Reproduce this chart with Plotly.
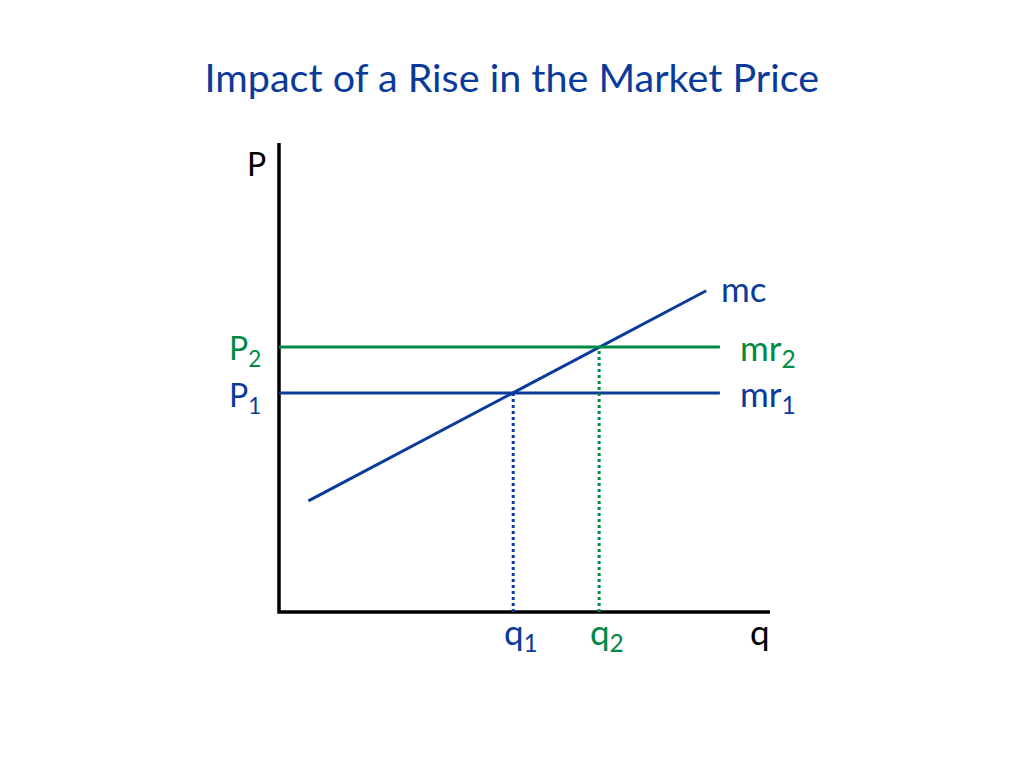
import plotly.graph_objects as go

# units: q on x, P on y (axes drawn 0..10)
AXIS_Q = [0, 0, 10]
AXIS_P = [10, 0, 0]
MC_Q = [0.6, 8.7]
MC_P = [2.37, 6.85]
P1 = 4.67
P2 = 5.65
Q1 = 4.77
Q2 = 6.52
MR_END = 8.98

BLUE = "#0B3B9A"
GREEN = "#008A45"
FONT = "Lato, 'Open Sans', sans-serif"

fig = go.Figure()

# axes
fig.add_trace(go.Scatter(x=AXIS_Q, y=AXIS_P, mode="lines",
                         line=dict(color="black", width=3.5)))
# marginal cost
fig.add_trace(go.Scatter(x=MC_Q, y=MC_P, mode="lines",
                         line=dict(color=BLUE, width=3)))
# marginal revenue lines
fig.add_trace(go.Scatter(x=[0, MR_END], y=[P2, P2], mode="lines",
                         line=dict(color=GREEN, width=3)))
fig.add_trace(go.Scatter(x=[0, MR_END], y=[P1, P1], mode="lines",
                         line=dict(color=BLUE, width=3)))
# dropped lines to the quantity axis
fig.add_trace(go.Scatter(x=[Q1, Q1], y=[0, P1], mode="lines",
                         line=dict(color=BLUE, width=3, dash="dot")))
fig.add_trace(go.Scatter(x=[Q2, Q2], y=[0, P2], mode="lines",
                         line=dict(color=GREEN, width=3, dash="dot")))

labels = [
    # text, x, y, color, size, xanchor, yanchor
    ("P", -0.45, 9.57, "black", 32, "center", "middle"),
    ("P<sub>2</sub>", -0.33, P2 - 0.06, GREEN, 32, "right", "middle"),
    ("P<sub>1</sub>", -0.33, P1 - 0.08, BLUE, 32, "right", "middle"),
    ("q<sub>1</sub>", Q1 + 0.16, 0.08, BLUE, 35, "center", "top"),
    ("q<sub>2</sub>", Q2 + 0.16, 0.08, GREEN, 35, "center", "top"),
    ("q", 9.8, 0.08, "black", 35, "center", "top"),
    ("mc", MC_Q[1] + 0.26, MC_P[1] + 0.05, BLUE, 35, "left", "middle"),
    ("mr<sub>2</sub>", MR_END + 0.37, P2 - 0.05, GREEN, 35, "left", "middle"),
    ("mr<sub>1</sub>", MR_END + 0.37, P1 - 0.06, BLUE, 35, "left", "middle"),
]
for text, x, y, color, size, xa, ya in labels:
    fig.add_annotation(x=x, y=y, text=text, showarrow=False,
                       xanchor=xa, yanchor=ya,
                       font=dict(family=FONT, size=size, color=color))

# 1 unit = 49.1 px across, 46.9 px up; origin at (271, 604) px of the figure
fig.update_layout(
    width=1024, height=768,
    margin=dict(l=0, r=0, t=0, b=0),
    paper_bgcolor="white", plot_bgcolor="white",
    showlegend=False,
    title=dict(text="Impact of a Rise in the Market Price",
               x=0.492, xanchor="center", y=0.909, yanchor="middle",
               font=dict(family=FONT, size=39.5, color=BLUE)),
)
fig.update_xaxes(range=[-271 / 49.1, (1024 - 271) / 49.1],
                 showline=False, showgrid=False, zeroline=False,
                 showticklabels=False, ticks="", fixedrange=True)
fig.update_yaxes(range=[-(768 - 604) / 46.9, 604 / 46.9],
                 showline=False, showgrid=False, zeroline=False,
                 showticklabels=False, ticks="", fixedrange=True)

fig.write_html("out.html")
